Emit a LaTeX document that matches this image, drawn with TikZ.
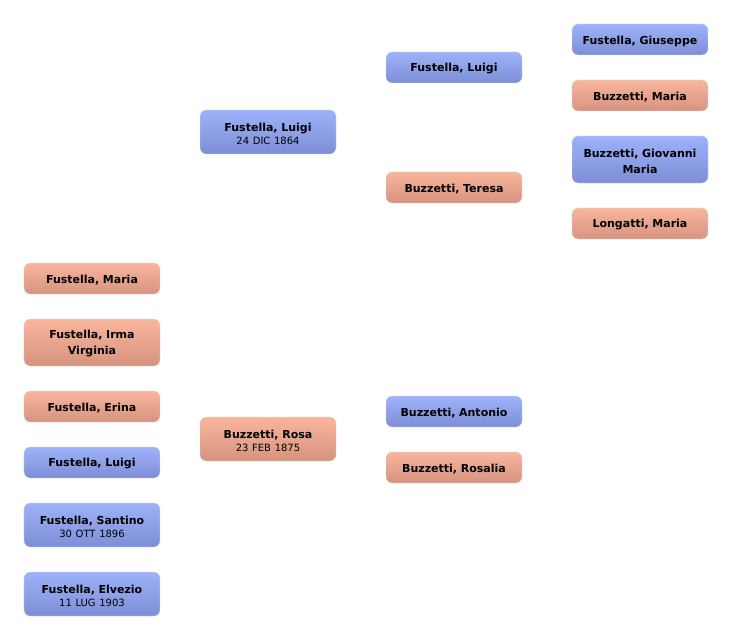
\documentclass[tikz,border=0pt]{standalone}
\usepackage{fontspec}
\setmainfont{DejaVu Sans}
\definecolor{btop}{HTML}{9DB2FA}
\definecolor{bbot}{HTML}{7D8ED6}
\definecolor{stop}{HTML}{F9B59C}
\definecolor{sbot}{HTML}{D6937F}
\begin{document}
\begin{tikzpicture}[x=1bp,y=-1bp,
  person/.style={rounded corners=6bp, minimum width=136bp, inner sep=0pt,
    draw=white!80!gray, line width=0.3bp},
  txt/.style={text width=130bp, align=center, inner sep=0pt, yshift=-1.5bp,
    font=\fontsize{11bp}{14bp}\selectfont\bfseries},
  male/.style={person, top color=btop, bottom color=bbot},
  female/.style={person, top color=stop, bottom color=sbot},
  h1/.style={minimum height=31bp},
  h2/.style={minimum height=44bp},
  h3/.style={minimum height=47bp}]
\useasboundingbox[fill=white] (0,0) rectangle (732,640);
\newcommand{\dt}[1]{\\[-1bp]{\fontsize{10bp}{12bp}\selectfont\mdseries #1}}
% column 1
\node[female,h1,label={[txt]center:Fustella, Maria}] (c1a) at (92,278.5) {};
\node[female,h3,label={[txt]center:Fustella, Irma\\[2bp]Virginia}] (c1b) at (92,342.5) {};
\node[female,h1,label={[txt]center:Fustella, Erina}] (c1c) at (92,406.5) {};
\node[male,h1,label={[txt]center:Fustella, Luigi}] (c1d) at (92,462.5) {};
\node[male,h2,label={[txt]center:Fustella, Santino\dt{30 OTT 1896}}] (c1e) at (92,525) {};
\node[male,h2,label={[txt]center:Fustella, Elvezio\dt{11 LUG 1903}}] (c1f) at (92,594) {};
% column 2
\node[male,h2,label={[txt]center:Fustella, Luigi\dt{24 DIC 1864}}] (c2a) at (268,132) {};
\node[female,h2,label={[txt]center:Buzzetti, Rosa\dt{23 FEB 1875}}] (c2b) at (268,439) {};
% column 3
\node[male,h1,label={[txt]center:Fustella, Luigi}] (c3a) at (454,67.5) {};
\node[female,h1,label={[txt]center:Buzzetti, Teresa}] (c3b) at (454,187.5) {};
\node[male,h1,label={[txt]center:Buzzetti, Antonio}] (c3c) at (454,411.5) {};
\node[female,h1,label={[txt]center:Buzzetti, Rosalia}] (c3d) at (454,467.5) {};
% column 4
\node[male,h1,label={[txt]center:Fustella, Giuseppe}] (c4a) at (640,39.5) {};
\node[female,h1,label={[txt]center:Buzzetti, Maria}] (c4b) at (640,95.5) {};
\node[male,h3,label={[txt]center:Buzzetti, Giovanni\\[2bp]Maria}] (c4c) at (640,159.5) {};
\node[female,h1,label={[txt]center:Longatti, Maria}] (c4d) at (640,223.5) {};
\end{tikzpicture}
\end{document}
